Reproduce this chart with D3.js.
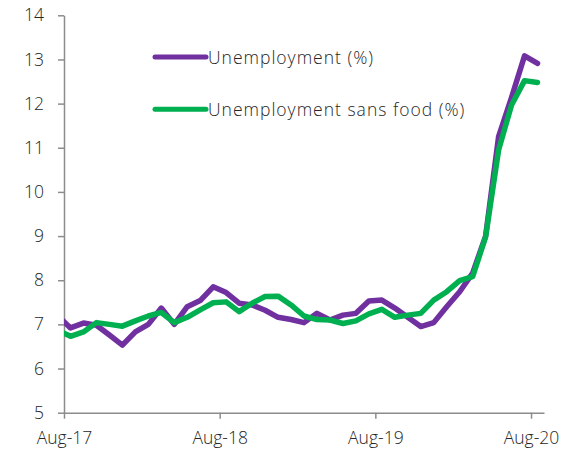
<!DOCTYPE html>
<html><head><meta charset="utf-8">
<script src="https://cdn.jsdelivr.net/npm/d3@7"></script>
<style>
html,body{margin:0;padding:0;background:#fff;}
svg{display:block;font-family:"Open Sans",Lato,sans-serif;}
</style></head>
<body>
<svg id="c" width="573" height="453"></svg>
<script>
// Months Jul-17 .. Aug-20 (Jul-17 lies before the axis start and is clipped)
const months = ["Jul-17","Aug-17","Sep-17","Oct-17","Nov-17","Dec-17","Jan-18","Feb-18","Mar-18","Apr-18","May-18","Jun-18","Jul-18",
  "Aug-18","Sep-18","Oct-18","Nov-18","Dec-18","Jan-19","Feb-19","Mar-19","Apr-19","May-19","Jun-19","Jul-19",
  "Aug-19","Sep-19","Oct-19","Nov-19","Dec-19","Jan-20","Feb-20","Mar-20","Apr-20","May-20","Jun-20","Jul-20","Aug-20"];
const unemployment = [7.2,6.92,7.03,6.98,6.76,6.53,6.83,7.0,7.37,7.0,7.4,7.54,7.85,
  7.72,7.48,7.44,7.32,7.16,7.11,7.04,7.25,7.1,7.21,7.25,7.53,
  7.55,7.37,7.16,6.95,7.04,7.4,7.74,8.16,9.0,11.25,12.14,13.08,12.91];
const sansFood = [6.87,6.73,6.83,7.04,7.0,6.96,7.08,7.19,7.27,7.04,7.16,7.33,7.49,
  7.51,7.29,7.48,7.63,7.64,7.44,7.19,7.11,7.1,7.02,7.08,7.24,
  7.34,7.16,7.21,7.25,7.55,7.74,7.99,8.08,8.98,10.95,11.97,12.52,12.48];
const xTickLabels = ["Aug-17","Aug-18","Aug-19","Aug-20"];
const yTicks = [5,6,7,8,9,10,11,12,13,14];
const seriesNames = ["Unemployment (%)","Unemployment sans food (%)"];
const colors = ["#7030A0","#00B050"];

const svg = d3.select("#c");
const L = 64, R = 544, T = 15.3, B = 412.7;
const FONT = "'Open Sans',Lato,sans-serif";
// x in months from Aug-17 (points sit mid-month)
const x = d3.scaleLinear().domain([0, 37]).range([L, R]);
const y = d3.scaleLinear().domain([5, 14]).range([B, T]);

svg.append("clipPath").attr("id","clip").append("rect")
  .attr("x", L).attr("y", 0).attr("width", R - L).attr("height", 453);

const axisColor = "#8c8c8c", textColor = "#262626";

// Y axis
const yAxis = svg.append("g").attr("transform", `translate(${L},0)`)
  .call(d3.axisLeft(y).tickValues(yTicks).tickSize(6).tickSizeOuter(0).tickPadding(14));
yAxis.select(".domain").attr("stroke", axisColor).attr("stroke-width", 1.5);
yAxis.selectAll(".tick line").attr("stroke", axisColor).attr("stroke-width", 1.5);
yAxis.selectAll(".tick text").attr("fill", textColor).attr("font-size", 17.5)
  .attr("font-weight", 300).attr("font-family", FONT);

// X axis
const xTickVals = xTickLabels.map((d, i) => i * 12);
const xAxis = svg.append("g").attr("transform", `translate(0,${B})`)
  .call(d3.axisBottom(x).tickValues(xTickVals).tickFormat((d, i) => xTickLabels[i]).tickSize(6).tickSizeOuter(0).tickPadding(13));
xAxis.select(".domain").attr("stroke", axisColor).attr("stroke-width", 1.5);
xAxis.selectAll(".tick line").attr("stroke", axisColor).attr("stroke-width", 1.5);
xAxis.selectAll(".tick text").attr("fill", textColor).attr("font-size", 17.5)
  .attr("font-weight", 300).attr("font-family", FONT);

// Lines
const line = d3.line().x((d, i) => x(i - 0.5)).y(d => y(d));
const g = svg.append("g").attr("clip-path", "url(#clip)");
[unemployment, sansFood].forEach((s, si) => {
  g.append("path").datum(s).attr("d", line)
    .attr("fill", "none").attr("stroke", colors[si]).attr("stroke-width", 5.5)
    .attr("stroke-linejoin", "round").attr("stroke-linecap", "round");
});

// Legend
const leg = svg.append("g");
[[57, 0], [109.3, 1]].forEach(([ly, i]) => {
  leg.append("line").attr("x1", 155).attr("x2", 206).attr("y1", ly).attr("y2", ly)
    .attr("stroke", colors[i]).attr("stroke-width", 5).attr("stroke-linecap", "round");
  leg.append("text").attr("x", 208).attr("y", ly + 6.5).text(seriesNames[i])
    .attr("fill", textColor).attr("font-size", 17.5).attr("font-weight", 300)
    .attr("letter-spacing", 1.0).attr("font-family", FONT);
});
</script>
</body></html>
